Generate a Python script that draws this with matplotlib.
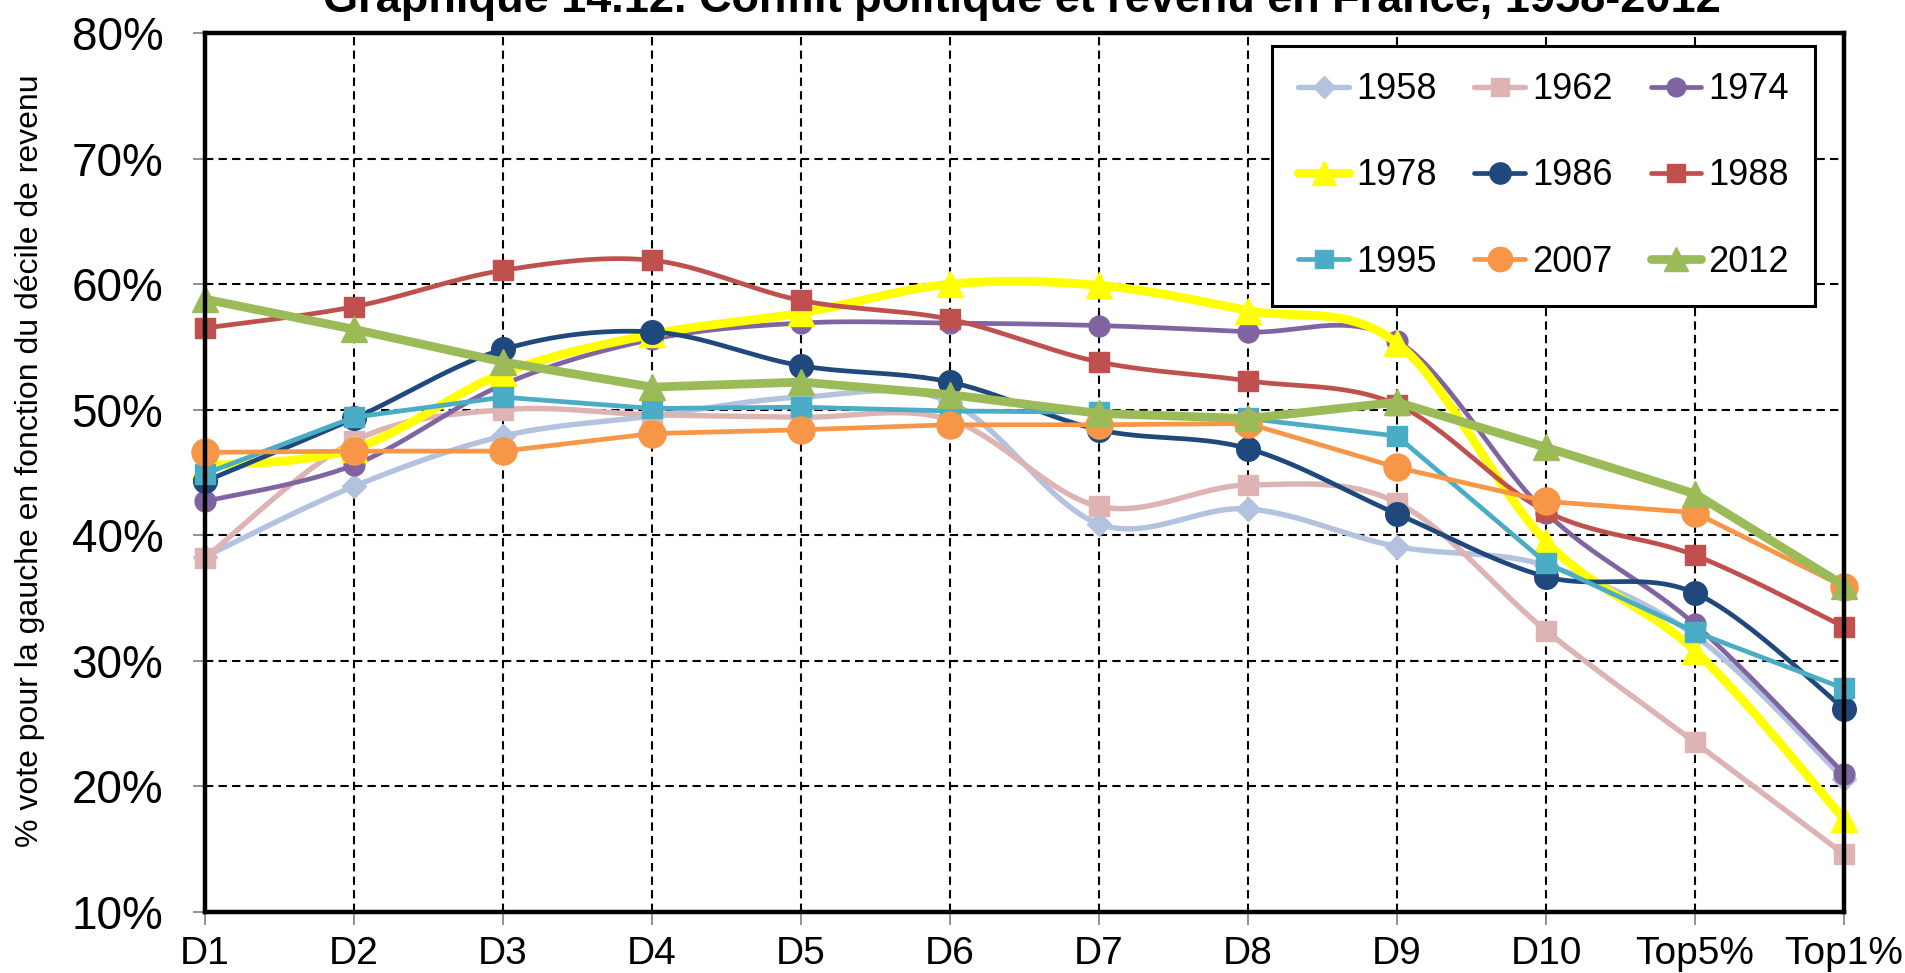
import numpy as np
import matplotlib
matplotlib.use("Agg")
import matplotlib.pyplot as plt

plt.rcParams['font.family'] = ['Liberation Sans', 'DejaVu Sans']

# Data (% vote for the left by income group)
categories = ["D1", "D2", "D3", "D4", "D5", "D6", "D7", "D8", "D9", "D10", "Top5%", "Top1%"]
years = ["1958", "1962", "1974", "1978", "1986", "1988", "1995", "2007", "2012"]

v1958 = [38.3, 43.9, 47.9, 49.5, 51.0, 50.6, 40.9, 42.1, 39.1, 37.6, 32.0, 20.6]
v1962 = [38.2, 47.5, 50.0, 49.6, 49.4, 49.2, 42.3, 44.0, 42.6, 32.4, 23.5, 14.6]
v1974 = [42.7, 45.6, 52.0, 55.6, 56.9, 56.9, 56.7, 56.2, 55.5, 41.8, 32.9, 21.0]
v1978 = [45.5, 46.9, 52.9, 56.0, 57.7, 60.0, 59.9, 57.9, 55.3, 39.5, 30.8, 17.4]
v1986 = [44.3, 49.3, 54.8, 56.2, 53.5, 52.2, 48.4, 46.9, 41.7, 36.7, 35.4, 26.2]
v1988 = [56.5, 58.2, 61.1, 61.9, 58.7, 57.2, 53.8, 52.3, 50.4, 41.9, 38.4, 32.7]
v1995 = [44.9, 49.4, 51.0, 50.1, 50.2, 49.9, 49.8, 49.3, 47.9, 37.8, 32.3, 27.8]
v2007 = [46.6, 46.7, 46.7, 48.1, 48.4, 48.8, 48.8, 48.9, 45.4, 42.7, 41.8, 35.9]
v2012 = [58.8, 56.4, 53.8, 51.8, 52.2, 51.2, 49.7, 49.3, 50.6, 47.0, 43.3, 36.0]

values = [v1958, v1962, v1974, v1978, v1986, v1988, v1995, v2007, v2012]
colors = ['#B3C3DF', '#DDB4B3', '#8064A2', '#FFFF00', '#1F497D',
          '#C0504D', '#4BACC6', '#F79646', '#9BBB59']
markers = ['D', 's', 'o', '^', 'o', 's', 's', 'o', '^']
msizes = [12.5, 14.5, 15, 19, 17, 15, 14, 19.5, 19]
lwidths = [3.9, 3.9, 3.4, 6.3, 3.4, 3.4, 3.4, 3.4, 6.3]
smooth = [True, True, True, True, True, True, False, False, False]


def excel_smooth(x, y, n=30):
    # bezier smoothing like Excel's "smoothed line"
    x = np.asarray(x, float)
    y = np.asarray(y, float)
    px = np.concatenate([[x[0]], x, [x[-1]]])
    py = np.concatenate([[y[0]], y, [y[-1]]])
    xs, ys = [], []
    t = np.linspace(0, 1, n)
    for i in range(1, len(px) - 2):
        p0 = np.array([px[i], py[i]])
        p3 = np.array([px[i + 1], py[i + 1]])
        p1 = p0 + (np.array([px[i + 1], py[i + 1]]) - np.array([px[i - 1], py[i - 1]])) / 6
        p2 = p3 - (np.array([px[i + 2], py[i + 2]]) - np.array([px[i], py[i]])) / 6
        b = ((1 - t) ** 3)[:, None] * p0 + (3 * (1 - t) ** 2 * t)[:, None] * p1 \
            + (3 * (1 - t) * t ** 2)[:, None] * p2 + (t ** 3)[:, None] * p3
        xs.extend(b[:, 0])
        ys.extend(b[:, 1])
    return xs, ys


fig = plt.figure(figsize=(19.06, 9.73), dpi=100)
ax = fig.add_axes([0.1076, 0.0627, 0.8599, 0.9034])

x = np.arange(len(categories))
handles = []
for yr, vals, c, m, ms, lw, sm in zip(years, values, colors, markers, msizes, lwidths, smooth):
    if sm:
        sx, sy = excel_smooth(x, vals)
    else:
        sx, sy = x, vals
    ax.plot(sx, sy, color=c, lw=lw, solid_capstyle='round', clip_on=False)
    ax.plot(x, vals, linestyle='none', marker=m, ms=ms, color=c, mec=c, clip_on=False)
    h, = ax.plot([], [], color=c, lw=lw, marker=m, ms=ms * 0.9, solid_capstyle='round', label=yr)
    handles.append(h)

ax.set_xlim(0, len(categories) - 1)
ax.set_ylim(10, 80)
ax.set_xticks(x)
ax.set_xticklabels(categories, fontsize=28)
ax.set_yticks(np.arange(10, 81, 10))
ax.set_yticklabels([f"{v}%" for v in range(10, 81, 10)], fontsize=33)
ax.tick_params(axis='y', length=9, width=1.2, color='#808080', pad=21)
ax.tick_params(axis='x', length=9, width=1.2, color='#808080', pad=8)

ax.grid(True, color='black', linestyle=(0, (4, 2.5)), lw=1.5)
ax.set_axisbelow(True)
for s in ax.spines.values():
    s.set_linewidth(3.2)
    s.set_color('black')

fig.text(30 / 1906, 0.527, "% vote pour la gauche en fonction du décile de revenu",
         fontsize=23, rotation=90, ha='center', va='center')

fig.text(0.536, 1 - 12 / 973, "Graphique 14.12. Conflit politique et revenu en France, 1958-2012",
         fontsize=32.5, fontweight='bold', ha='center', va='baseline')

# legend filled row-wise, as in the original
order = [0, 3, 6, 1, 4, 7, 2, 5, 8]
leg = ax.legend([handles[i] for i in order], [years[i] for i in order], ncol=3,
                loc='upper right', bbox_to_anchor=(0.9824, 0.985), fontsize=26,
                frameon=True, fancybox=False, framealpha=1, edgecolor='black',
                handlelength=1.4, handletextpad=0.2, columnspacing=1.05,
                labelspacing=1.42, borderpad=0.72, borderaxespad=0)
leg.get_frame().set_linewidth(2.2)

fig.savefig("out.png", dpi=100)
